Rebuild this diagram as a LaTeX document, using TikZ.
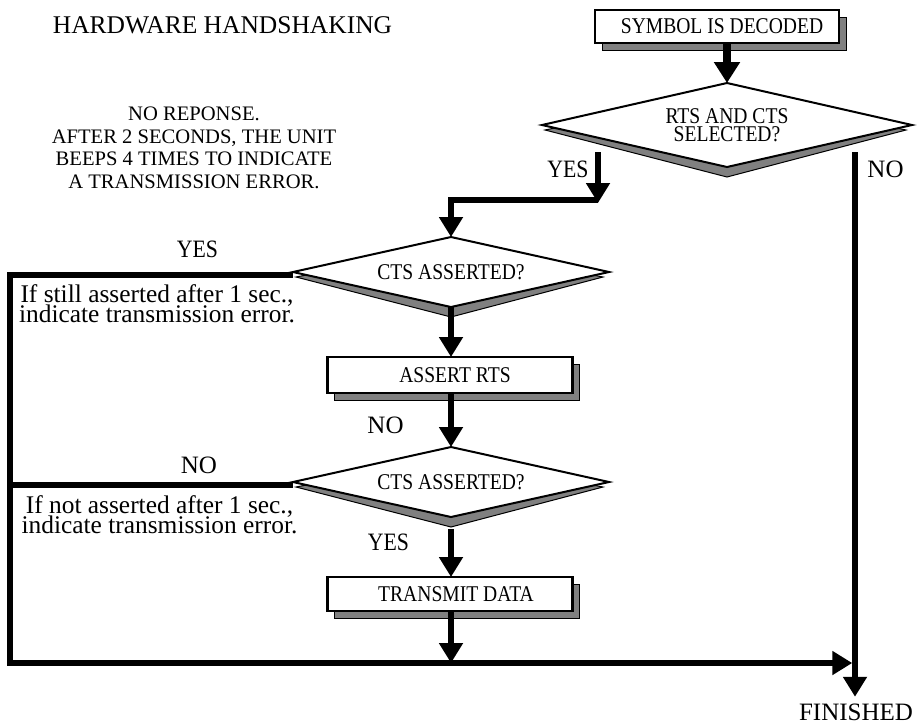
\documentclass[tikz,border=0pt]{standalone}
\usepackage{fontspec}
\setmainfont{Liberation Serif}
\newfontfamily\condfont[FakeStretch=0.87]{Liberation Serif}
\usetikzlibrary{shapes.geometric,arrows.meta,shadows,backgrounds}

\tikzset{
  flow/.style={line width=5.5pt, -{Triangle[width=23pt,length=20pt]}},
  plain/.style={line width=5.5pt},
  procbox/.style={draw=black, line width=2.2pt, fill=white, minimum width=245pt,
    minimum height=35pt, inner sep=0pt, outer sep=0pt,
    font=\condfont\fontsize{22.5}{22.5}\selectfont,
    drop shadow={shadow xshift=7pt, shadow yshift=-7pt, fill=gray, draw=black, line width=1pt, opacity=1}},
  decision/.style={diamond, aspect=4.5, draw=black, line width=2pt, fill=white,
    minimum width=316pt, minimum height=70pt, inner sep=0pt, outer sep=0pt,
    align=center, font=\condfont\fontsize{22.5}{18}\selectfont},
  dshadow/.style={fill=gray, draw=black, line width=1pt},
  lbl/.style={inner sep=0pt, font=\fontsize{25}{25}\selectfont},
  ylbl/.style={inner sep=0pt, font=\condfont\fontsize{25}{25}\selectfont},
  errnote/.style={inner sep=0pt, align=center, font=\fontsize{25.4}{20}\selectfont},
}

\begin{document}
\lineskiplimit=-30pt\relax
\begin{tikzpicture}[x=1pt, y=-1pt]
\useasboundingbox (0,0) rectangle (917,724);

% titles and notes
\node[anchor=base, inner sep=0pt, font=\fontsize{25.5}{25.5}\selectfont] (title) at (222.5,33) {HARDWARE HANDSHAKING};
\node[align=center, inner sep=0pt, font=\fontsize{20.6}{22.5}\selectfont] (resp) at (194,147.8)
  {NO REPONSE.\\AFTER 2 SECONDS, THE UNIT\\BEEPS 4 TIMES TO INDICATE\\A TRANSMISSION ERROR.};

% process boxes and decisions
\node[procbox, minimum width=244pt, minimum height=33pt] (start) at (717,26.5) {\hspace*{10pt}SYMBOL IS DECODED};
\node[decision, minimum width=370pt, minimum height=84pt, aspect=4.4] (d1) at (727,125) {RTS AND CTS\\SELECTED?};
\node[decision] (d2) at (451,272) {CTS ASSERTED?};
\node[procbox, minimum height=36pt] (rts) at (450,375) {\hspace*{10pt}ASSERT RTS};
\node[decision] (d3) at (451,482) {CTS ASSERTED?};
\node[procbox, minimum height=34pt] (tx) at (450,594) {\hspace*{12pt}TRANSMIT DATA};

% labels
\node[ylbl, anchor=base] (yes1) at (568,177) {YES};
\node[lbl, anchor=base] (no1) at (885.5,177) {NO};
\node[ylbl, anchor=base] (yes2) at (197.5,257) {YES};
\node[lbl, anchor=base] (no2) at (385.5,433) {NO};
\node[lbl, anchor=base] (no3) at (199,473) {NO};
\node[ylbl, anchor=base] (yes3) at (388.5,550) {YES};
\node[lbl, anchor=base, inner ysep=6.5pt] (fin) at (856,720) {FINISHED};
\node[errnote] (msg1) at (157,303.3) {If still asserted after 1 sec.,\\indicate transmission error.};
\node[errnote] (msg2) at (159.5,514.3) {If not asserted after 1 sec.,\\indicate transmission error.};

% shadows of the decisions
\begin{pgfonlayer}{background}
\fill[white] (0,0) rectangle (917,724);
\foreach \d in {d1,d2,d3}
  \path[dshadow] ([shift={(3,5)}]\d.west) -- ([shift={(0,10)}]\d.south)
     -- ([shift={(-6,5)}]\d.east) -- ([shift={(0,10)}]\d.north) -- cycle;
\end{pgfonlayer}

% free ends
\coordinate (y1s) at (598,152);
\coordinate (y1e) at (598,203);
\coordinate (y1j) at (598,200);
\coordinate (n1s) at (855,152);
\coordinate (bl) at (10,663);

% connectors
\draw[line width=7.5pt, -{Triangle[width=25pt,length=21pt]}] (start.south -| d1.north) -- (d1.north);
\draw[flow] (y1s) -- (y1e);
\draw[flow] (y1j) -| (d2.north);
\draw[flow] (n1s) -- (n1s |- fin.north);
\draw[flow, shorten >=2.75pt] ([yshift=-3pt]d2.west) -| (bl) -- (bl -| n1s);
\draw[plain] ([yshift=-3pt]d3.west) -- ([yshift=-3pt]d3.west -| bl);
\draw[flow] (d2.south) -- (d2.south |- rts.north);
\draw[flow] (rts.south -| d3.north) -- (d3.north);
\draw[flow, shorten <=12pt] (d3.south) -- (d3.south |- tx.north);
\draw[flow] (d3.south |- tx.south) -- (d3.south |- bl);
\end{tikzpicture}
\end{document}
